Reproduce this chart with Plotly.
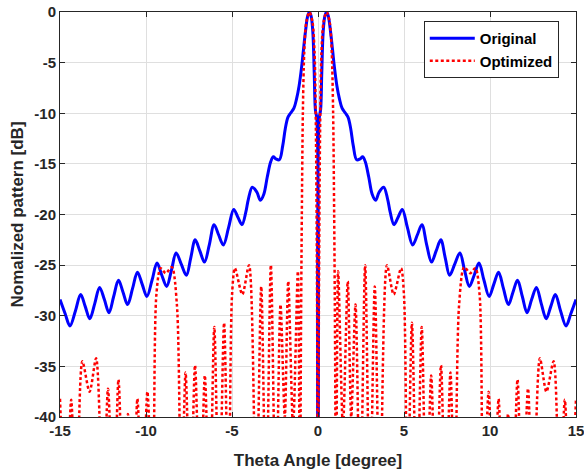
import plotly.graph_objects as go

# ---------------- data ----------------
X_TICKS = [-15, -10, -5, 0, 5, 10, 15]
X_TICK_LABELS = ["-15", "-10", "-5", "0", "5", "10", "15"]
Y_TICKS = [-40, -35, -30, -25, -20, -15, -10, -5, 0]
Y_TICK_LABELS = ["-40", "-35", "-30", "-25", "-20", "-15", "-10", "-5", "0"]

# Original pattern (blue), left half then right half
BLUE_X_LEFT = [-15.0, -14.7, -14.42, -14.1, -13.8, -13.53, -13.27, -12.98, -12.7, -12.42,
               -12.15, -11.88, -11.6, -11.33, -11.07, -10.78, -10.5, -10.22, -9.95, -9.65,
               -9.36, -9.08, -8.8, -8.52, -8.25, -7.95, -7.65, -7.4, -7.14, -6.87,
               -6.6, -6.32, -6.04, -5.78, -5.5, -5.2, -4.9, -4.65, -4.42, -4.2,
               -4.05, -3.82, -3.55, -3.35, -3.15, -2.95, -2.75, -2.6, -2.45, -2.25,
               -2.05, -1.9, -1.75, -1.6, -1.4, -1.25, -1.1, -0.95, -0.85, -0.72,
               -0.6, -0.5, -0.4, -0.3, -0.22, -0.15, -0.07]
BLUE_DB_LEFT = [-28.4, -29.8, -31.0, -29.5, -27.9, -29.1, -30.3, -28.8, -27.2, -28.4,
                -29.7, -28.1, -26.5, -27.7, -28.9, -27.3, -25.7, -26.9, -28.1, -26.5,
                -24.8, -26.0, -27.1, -25.5, -23.8, -24.9, -26.0, -24.3, -22.5, -23.6,
                -24.7, -23.0, -21.0, -22.0, -23.0, -21.3, -19.5, -20.3, -21.0, -19.8,
                -18.5, -17.3, -17.8, -18.6, -18.0, -16.3, -14.8, -14.3, -14.5, -14.6,
                -13.2, -11.5, -10.4, -10.0, -9.5, -8.6, -7.3, -5.4, -3.8, -1.8,
                -0.4, 0.0, -0.4, -2.0, -6.0, -9.7, -10.5]
BLUE_X_RIGHT = [0.0, 0.07, 0.15, 0.22, 0.3, 0.4, 0.5, 0.6, 0.72, 0.85,
                0.95, 1.1, 1.25, 1.4, 1.6, 1.75, 1.9, 2.05, 2.25, 2.45,
                2.6, 2.75, 2.95, 3.15, 3.35, 3.55, 3.82, 4.05, 4.2, 4.42,
                4.65, 4.9, 5.2, 5.5, 5.78, 6.04, 6.32, 6.6, 6.87, 7.14,
                7.4, 7.65, 7.95, 8.25, 8.52, 8.8, 9.08, 9.36, 9.65, 9.95,
                10.22, 10.5, 10.78, 11.07, 11.33, 11.6, 11.88, 12.15, 12.42, 12.7,
                12.98, 13.27, 13.53, 13.8, 14.1, 14.42, 14.7, 15.0]
BLUE_DB_RIGHT = [-60.0, -10.5, -9.7, -6.0, -2.0, -0.4, 0.0, -0.4, -1.8, -3.8,
                 -5.4, -7.3, -8.6, -9.5, -10.0, -10.4, -11.5, -13.2, -14.6, -14.5,
                 -14.3, -14.8, -16.3, -18.0, -18.6, -17.8, -17.3, -18.5, -19.8, -21.0,
                 -20.3, -19.5, -21.3, -23.0, -22.0, -21.0, -23.0, -24.7, -23.6, -22.5,
                 -24.3, -26.0, -24.9, -23.8, -25.5, -27.1, -26.0, -24.8, -26.5, -28.1,
                 -26.9, -25.7, -27.3, -28.9, -27.7, -26.5, -28.1, -29.7, -28.4, -27.2,
                 -28.8, -30.3, -29.1, -27.9, -29.5, -31.0, -29.8, -28.4]

# Optimized pattern (red), left half then right half
RED_X_LEFT = [-15.0, -14.65, -14.35, -14.05, -13.7, -13.28, -12.9, -12.5, -12.21, -11.88,
              -11.6, -11.3, -11.05, -10.75, -10.5, -10.2, -9.92, -9.6, -9.4, -9.15,
              -8.85, -8.5, -8.2, -7.95, -7.7, -7.42, -7.15, -6.85, -6.58, -6.3,
              -6.03, -5.75, -5.46, -5.2, -5.0, -4.83, -4.4, -4.01, -3.6, -3.3,
              -3.02, -2.74, -2.45, -2.18, -1.93, -1.73, -1.45, -1.17, -1.05, -0.99,
              -0.94, -0.88, -0.8, -0.68, -0.5, -0.32, -0.2, -0.12, -0.05]
RED_DB_LEFT = [-38.2, -50.0, -38.3, -50.0, -34.5, -37.5, -34.2, -50.0, -37.2, -50.0,
               -36.3, -50.0, -39.7, -50.0, -38.2, -50.0, -37.5, -50.0, -28.0, -25.3,
               -25.8, -25.2, -29.0, -50.0, -35.6, -50.0, -34.9, -50.0, -35.9, -50.0,
               -31.1, -50.0, -30.7, -50.0, -28.0, -25.3, -27.9, -25.0, -50.0, -27.1,
               -50.0, -25.0, -50.0, -28.9, -40.0, -26.6, -41.0, -25.6, -50.0, -32.0,
               -20.0, -10.0, -4.0, -1.0, 0.0, -1.0, -4.0, -12.0, -30.0]
RED_X_RIGHT = [0.0, 0.05, 0.12, 0.2, 0.32, 0.5, 0.68, 0.8, 0.88, 0.94,
               0.99, 1.05, 1.17, 1.45, 1.73, 1.93, 2.18, 2.45, 2.74, 3.02,
               3.3, 3.6, 4.01, 4.4, 4.83, 5.0, 5.2, 5.46, 5.75, 6.03,
               6.3, 6.58, 6.85, 7.15, 7.42, 7.7, 7.95, 8.2, 8.5, 8.85,
               9.15, 9.4, 9.6, 9.92, 10.2, 10.5, 10.75, 11.05, 11.3, 11.6,
               11.88, 12.21, 12.5, 12.9, 13.28, 13.7, 14.05, 14.35, 14.65, 15.0]
RED_DB_RIGHT = [-60.0, -30.0, -12.0, -4.0, -1.0, 0.0, -1.0, -4.0, -10.0, -20.0,
                -32.0, -50.0, -25.6, -41.0, -26.6, -40.0, -28.9, -50.0, -25.0, -50.0,
                -27.1, -50.0, -25.0, -27.9, -25.3, -28.0, -50.0, -30.7, -50.0, -31.1,
                -50.0, -35.9, -50.0, -34.9, -50.0, -35.6, -50.0, -29.0, -25.2, -25.8,
                -25.3, -28.0, -50.0, -37.5, -50.0, -38.2, -50.0, -39.7, -50.0, -36.3,
                -50.0, -37.2, -50.0, -34.2, -37.5, -34.5, -50.0, -38.3, -50.0, -38.2]

SERIES_NAMES = ["Original", "Optimized"]
X_TITLE = "Theta Angle [degree]"
Y_TITLE = "Nomalized pattern [dB]"

# ---------------- figure ----------------
AX_COLOR = "#262626"
GRID_COLOR = "#dfdfdf"
FONT = "Liberation Sans, Arial, Helvetica, sans-serif"

fig = go.Figure()
fig.add_trace(go.Scatter(
    x=BLUE_X_LEFT + BLUE_X_RIGHT, y=BLUE_DB_LEFT + BLUE_DB_RIGHT,
    mode="lines", name=SERIES_NAMES[0],
    line=dict(color="#0000ff", width=3, shape="spline", smoothing=1.0),
))
fig.add_trace(go.Scatter(
    x=RED_X_LEFT + RED_X_RIGHT, y=RED_DB_LEFT + RED_DB_RIGHT,
    mode="lines", name=SERIES_NAMES[1],
    line=dict(color="#ff0000", width=2.5, dash="3px,2.5px", shape="spline", smoothing=0.8),
))

axis_common = dict(
    showgrid=True, gridcolor=GRID_COLOR, gridwidth=1,
    zeroline=False, showline=True, mirror="ticks",
    linecolor=AX_COLOR, linewidth=1,
    ticks="inside", ticklen=5, tickcolor=AX_COLOR, tickwidth=1,
    tickfont=dict(family=FONT, size=15, color=AX_COLOR, weight="bold"),
    automargin=False, ticklabeloverflow="allow",
)

fig.update_xaxes(
    range=[-15, 15], tickmode="array", tickvals=X_TICKS, ticktext=X_TICK_LABELS,
    title=dict(text=X_TITLE, font=dict(family=FONT, size=17, color=AX_COLOR, weight="bold"),
               standoff=16),
    **axis_common,
)
fig.update_yaxes(
    range=[-40, 0], tickmode="array", tickvals=Y_TICKS, ticktext=Y_TICK_LABELS,
    title=dict(text=Y_TITLE, font=dict(family=FONT, size=17, color=AX_COLOR, weight="bold"),
               standoff=6),
    **axis_common,
)

fig.update_layout(
    width=584, height=473,
    margin=dict(l=60, r=8, t=12, b=56),
    plot_bgcolor="white", paper_bgcolor="white",
    font=dict(family=FONT, size=15, color=AX_COLOR, weight="bold"),
    showlegend=True,
    legend=dict(
        x=0.705, y=0.978, xanchor="left", yanchor="top",
        bgcolor="white", bordercolor=AX_COLOR, borderwidth=1,
        font=dict(family=FONT, size=15, color="#000000", weight="bold"),
        tracegroupgap=0, itemwidth=45,
    ),
)

fig.write_html(
    "out.html",
    config={"displayModeBar": False},
    post_script="document.body.style.margin='0px';document.body.style.padding='0px';"
                "document.body.style.overflow='hidden';",
)
